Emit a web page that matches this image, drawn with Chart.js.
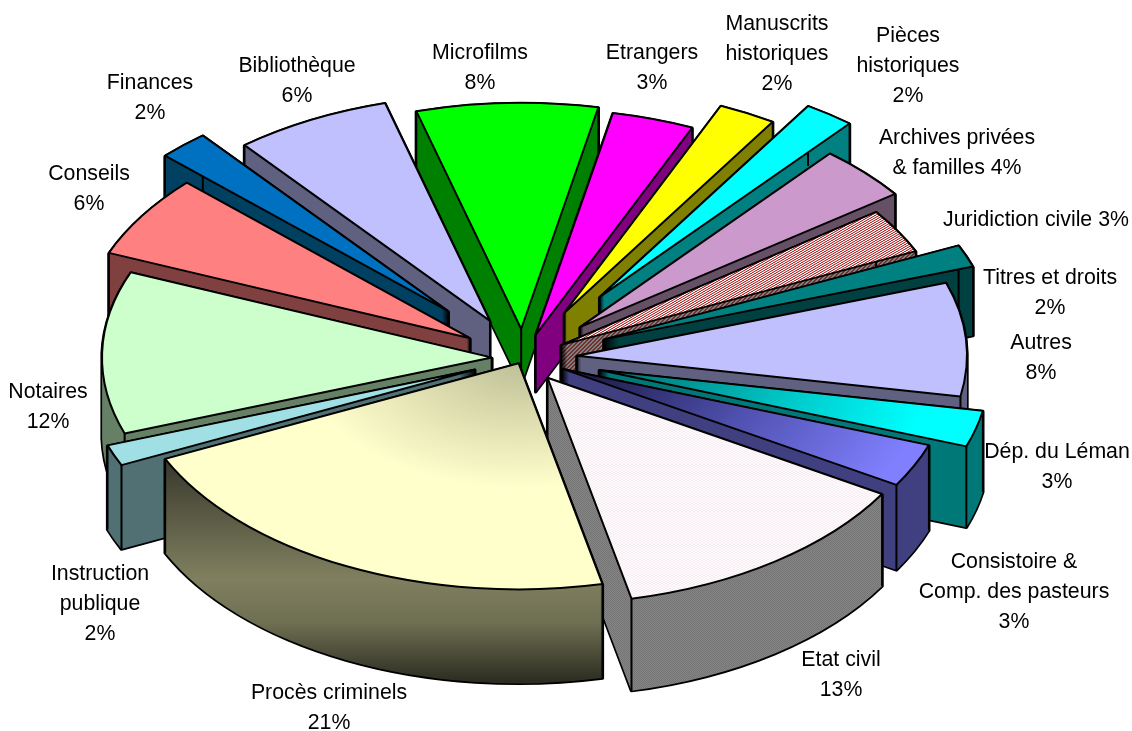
<!DOCTYPE html>
<html>
<head>
<meta charset="utf-8">
<script src="https://cdn.jsdelivr.net/npm/chart.js@4"></script>
<style>
body { margin: 0; background: #fff; }
canvas { display: block; }
</style>
</head>
<body>
<canvas id="chartFonds" width="1132" height="731"></canvas>
<script>
let categories = ['Microfilms', 'Etrangers', 'Manuscrits historiques', 'Pièces historiques', 'Archives privées & familles', 'Juridiction civile', 'Titres et droits', 'Autres', 'Dép. du Léman', 'Consistoire & Comp. des pasteurs', 'Etat civil', 'Procès criminels', 'Instruction publique', 'Notaires', 'Conseils', 'Finances', 'Bibliothèque'];
let values = [7.5, 3.4, 2.4, 2.1, 3.9, 3.2, 1.6, 8.1, 2.6, 3.1, 12.95, 21.49, 1.5, 11.6, 5.9, 2.1, 6.5];

// how far each slice is pulled out of the pie, px along its mid angle
let explode = [50, 42, 88, 130, 78, 44, 87, 54, 79, 43, 42, 10, 52, 31, 63, 110, 72];

let labelLines = [
    ['Microfilms', '8%'], ['Etrangers', '3%'], ['Manuscrits', 'historiques', '2%'],
    ['Pièces', 'historiques', '2%'], ['Archives privées', '& familles 4%'], ['Juridiction civile 3%'],
    ['Titres et droits', '2%'], ['Autres', '8%'], ['Dép. du Léman', '3%'],
    ['Consistoire &', 'Comp. des pasteurs', '3%'], ['Etat civil', '13%'], ['Procès criminels', '21%'],
    ['Instruction', 'publique', '2%'], ['Notaires', '12%'], ['Conseils', '6%'], ['Finances', '2%'], ['Bibliothèque', '6%']
];
let labelX = [480, 652, 777, 908, 957, 1036, 1050, 1041, 1057, 1014, 841, 329, 100, 48, 89, 150, 297];
let labelY = [53, 53, 24, 36, 138, 220, 278, 343, 452, 562, 660, 693, 574, 392, 174, 83, 66];

let squash = 0.58;
let centerX = 523;
let centerY = 358;
let radius = 390;

let canvas = document.querySelector('#chartFonds');
let context = canvas.getContext('2d');

function hatch(size, back, fore, cells) {
    let c = document.createElement('canvas');
    c.width = size;
    c.height = size;
    let x = c.getContext('2d');
    x.fillStyle = back;
    x.fillRect(0, 0, size, size);
    x.fillStyle = fore;
    cells.forEach(p => x.fillRect(p[0], p[1], 1, 1));
    return context.createPattern(c, 'repeat');
}

function radial(stops) {
    let g = context.createRadialGradient(centerX, centerY, 0, centerX, centerY, radius);
    stops.forEach(s => g.addColorStop(s[0], s[1]));
    return g;
}

function vertical(y0, y1, stops) {
    let g = context.createLinearGradient(0, y0, 0, y1);
    stops.forEach(s => g.addColorStop(s[0], s[1]));
    return g;
}

let diagonal = [[0, 3], [1, 2], [2, 1], [3, 0], [0, 2], [1, 1], [2, 0], [3, 3]];

let topColors = [
    '#00ff00', '#ff00ff', '#ffff00', '#00ffff', '#cc99cc',
    hatch(4, '#ffffff', '#b03030', diagonal),
    '#008080', '#c0c0ff',
    radial([[0, '#006a6a'], [0.5, '#00c8c8'], [0.85, '#00ffff']]),
    radial([[0, '#14143a'], [0.5, '#5050b0'], [0.95, '#8080ff']]),
    hatch(4, '#ffffff', '#f0d8e4', [[1, 0], [1, 1], [3, 2], [3, 3]]),
    radial([[0, '#c0c098'], [0.55, '#ffffcc']]),
    '#a0e0e4', '#ccffcc', '#ff8080', '#0070c0', '#c0c0ff'
];

let wallColors = [
    '#008000', '#800080', '#808000', '#008080', '#665066',
    hatch(4, '#808080', '#703030', diagonal),
    '#004040', '#606080', '#007878', '#404080',
    hatch(2, '#868686', '#747474', [[0, 0], [1, 1]]),
    vertical(455, 680, [[0, '#35352a'], [0.55, '#808060'], [0.75, '#6e6e52'], [1, '#2e2e22']]),
    '#507074', '#668066', '#804040', '#004060', '#606080'
];

function drawSlice(ctx, arc, i) {
    let mid = (arc.startAngle + arc.endAngle) / 2;
    let ox = arc.x + Math.cos(mid) * explode[i];
    let oy = arc.y + Math.sin(mid) * explode[i] * squash;
    let rx = arc.outerRadius;
    let ry = arc.outerRadius * squash;
    // deeper towards the viewer
    let depth = Math.round(76 + 20 * Math.sin(mid));

    let tracePie = d => {
        ctx.moveTo(ox, oy + d);
        ctx.ellipse(ox, oy + d, rx, ry, 0, arc.startAngle, arc.endAngle);
        ctx.closePath();
    };

    // the extruded body, outline first so the fill leaves only its silhouette
    ctx.beginPath();
    for (let d = 1; d <= depth; d++) tracePie(d);
    ctx.lineJoin = 'round';
    ctx.strokeStyle = '#000';
    ctx.lineWidth = 3.4;
    ctx.stroke();
    ctx.fillStyle = wallColors[i];
    ctx.fill();

    // upright edges
    ctx.beginPath();
    [[ox, oy],
     [ox + Math.cos(arc.startAngle) * rx, oy + Math.sin(arc.startAngle) * ry],
     [ox + Math.cos(arc.endAngle) * rx, oy + Math.sin(arc.endAngle) * ry]
    ].forEach(p => {
        ctx.moveTo(p[0], p[1]);
        ctx.lineTo(p[0], p[1] + depth);
    });
    ctx.lineWidth = 2;
    ctx.stroke();

    // top face, drawn by the element itself under the squash
    ctx.save();
    ctx.translate(ox, oy);
    ctx.scale(1, squash);
    ctx.translate(-arc.x, -arc.y);
    arc.draw(ctx);
    ctx.restore();

    ctx.beginPath();
    tracePie(0);
    ctx.lineWidth = 2;
    ctx.stroke();
}

let pie3d = {
    id: 'pie3d',
    beforeDatasetDraw(chart, args) {
        let arcs = chart.getDatasetMeta(args.index).data;
        let order = arcs.map((a, i) => i);
        let depthOf = i => Math.sin((arcs[i].startAngle + arcs[i].endAngle) / 2);
        order.sort((a, b) => depthOf(a) - depthOf(b));
        order.forEach(i => drawSlice(chart.ctx, arcs[i], i));
        return false;
    },
    afterDraw(chart) {
        let ctx = chart.ctx;
        ctx.save();
        ctx.font = '21.3px "Liberation Sans"';
        ctx.fillStyle = '#000';
        ctx.textAlign = 'center';
        ctx.textBaseline = 'middle';
        labelLines.forEach((lines, i) => {
            lines.forEach((t, n) => ctx.fillText(t, labelX[i], labelY[i] + n * 30));
        });
        ctx.restore();
    }
};

let config = {
    type: 'pie',
    data: {
        labels: categories,
        datasets: [{
            data: values,
            backgroundColor: topColors,
            borderWidth: 0
        }]
    },
    options: {
        responsive: false,
        animation: false,
        rotation: -15.6,
        radius: radius,
        layout: {
            padding: { right: 1132 - 2 * centerX, bottom: 731 - 2 * centerY }
        },
        plugins: {
            legend: { display: false },
            tooltip: { enabled: false }
        }
    },
    plugins: [pie3d]
};

let chartFonds = new Chart(context, config);
</script>
</body>
</html>
